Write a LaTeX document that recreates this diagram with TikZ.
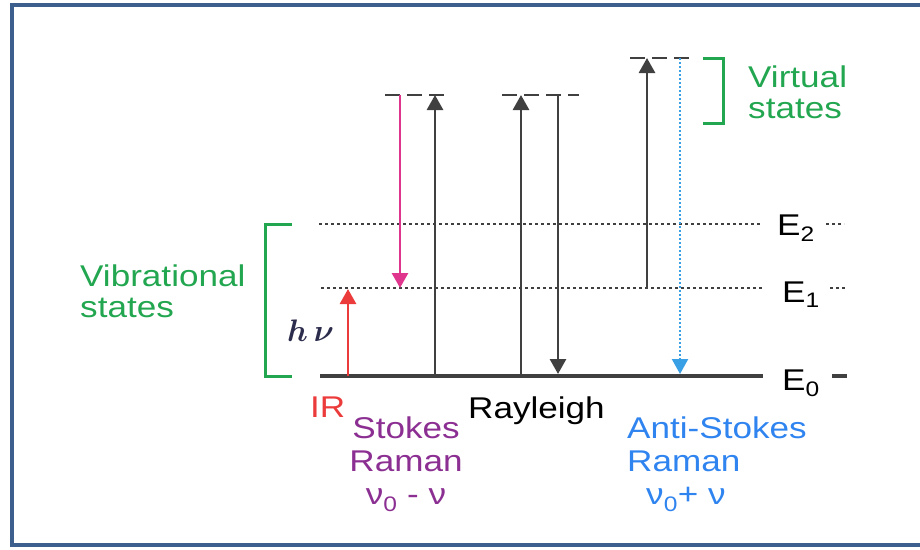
\documentclass[tikz,border=0pt]{standalone}
\usepackage{fontspec}
\setmainfont{Liberation Sans}[FakeStretch=1.17]
\usetikzlibrary{arrows.meta}
\definecolor{FrameBlue}{HTML}{3D5F8E}
\definecolor{LevelGray}{HTML}{404040}
\definecolor{StateGreen}{HTML}{22A650}
\definecolor{IRRed}{HTML}{EC3B3B}
\definecolor{StokesPink}{HTML}{E0358C}
\definecolor{StokesPurple}{HTML}{8C2F92}
\definecolor{AntiBlue}{HTML}{2F84F0}
\definecolor{DotBlue}{HTML}{3AA0E6}
\definecolor{HnuInk}{HTML}{2C2C4C}

\begin{document}
\begin{tikzpicture}[x=1pt, y=-1pt,
      txt/.style={font=\fontsize{30}{31}\selectfont, inner sep=0pt},
      lvl/.style={LevelGray, line width=2pt, dash pattern=on 2.5pt off 3.5pt},
      virt/.style={LevelGray, line width=2.4pt, dash pattern=on 15pt off 7pt},
      trans/.style={line width=2.8pt, -{Triangle[length=15pt,width=16pt]}},
      brace/.style={StateGreen, line width=3pt}]
      \useasboundingbox (0,0) rectangle (920,549);
      % Frame - open on the right
      \draw[FrameBlue, line width=4pt, line join=miter] (920,5) -- (12,5) -- (12,545) -- (920,545);

      % Energy levels
      \node[txt, anchor=base west] (e2) at (777,235) {E\textsubscript{2}};
      \node[txt, anchor=base west] (e1) at (782,302) {E\textsubscript{1}};
      \node[txt, anchor=base west] (e0) at (782,390) {E\textsubscript{0}};
      \coordinate (e2a) at (319,224);
      \coordinate (e1a) at (321,288);
      \coordinate (e0a) at (320,376);
      \draw[lvl] (e2a) -- (760,224);
      \draw[lvl] (826,224) -- (844,224);
      \draw[lvl] (e1a) -- (762,288);
      \draw[lvl] (830,288) -- (848,288);
      \draw[LevelGray, line width=3.6pt] (e0a) -- (763,376);
      \draw[LevelGray, line width=3.6pt] (832,376) -- (847,376);

      % Virtual states
      \draw[virt] (385,95) -- (446,95);
      \draw[virt] (502,95) -- (579,95);
      \draw[virt] (630,58) -- (690,58);

      % Transitions
      \coordinate (irA) at (348,376);   \coordinate (irB) at (348,289);
      \coordinate (stA) at (400,95);    \coordinate (stB) at (400,288);
      \coordinate (stC) at (435,376);   \coordinate (stD) at (435,95);
      \coordinate (raA) at (521,376);   \coordinate (raB) at (521,95);
      \coordinate (raC) at (558,95);    \coordinate (raD) at (558,374);
      \coordinate (asA) at (647,288);   \coordinate (asB) at (647,58);
      \coordinate (asC) at (680,58);    \coordinate (asD) at (680,374);
      \draw[trans, IRRed] (irA) -- (irB);
      \draw[trans, StokesPink] (stA) -- (stB);
      \draw[trans, LevelGray] (stC) -- (stD);
      \draw[trans, LevelGray] (raA) -- (raB);
      \draw[trans, LevelGray] (raC) -- (raD);
      \draw[trans, LevelGray] (asA) -- (asB);
      \draw[trans, DotBlue, line width=2.2pt, dash pattern=on 2pt off 2pt] (asC) -- (asD);

      % Brackets
      \draw[brace] (292,224) -- (265,224) -- (265,376) -- (292,376);
      \draw[brace] (703,58) -- (723,58) -- (723,123) -- (703,123);
      \node[txt, anchor=north west, text=StateGreen, align=left] (vib) at (80,265) {Vibrational\\states};
      \node[txt, anchor=north west, text=StateGreen, align=left] (virtual) at (748,66) {Virtual\\states};
      \node[font=\fontsize{20.74}{22}\selectfont\boldmath, inner sep=0pt, anchor=base west, text=HnuInk] (hnu) at (287,341)
            {\scalebox{1.5}{$h\,\nu$}};

      % Process labels
      \node[txt, anchor=base west, text=IRRed] (ir) at (310,417) {IR};
      \node[txt, anchor=base west] (rayleigh) at (468,418) {Rayleigh};
      \node[txt, font=\fontsize{30}{33}\selectfont, anchor=north, text=StokesPurple, align=center] (stokes) at (406,417)
            {Stokes\\Raman\\ν\textsubscript{0} - ν};
      \node[txt, font=\fontsize{30}{33}\selectfont, anchor=north west, text=AntiBlue, align=left] (anti) at (627,417)
            {Anti-Stokes\\Raman\\\hspace*{19pt}ν\textsubscript{0}+ ν};
    \end{tikzpicture}
\end{document}
